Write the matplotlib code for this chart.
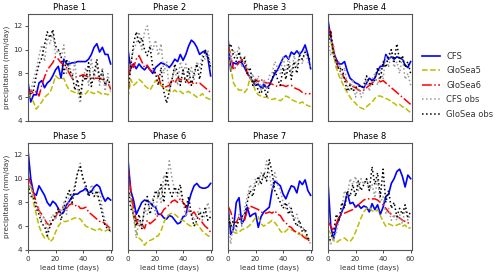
import numpy as np
import matplotlib
matplotlib.use("Agg")
import matplotlib.pyplot as plt

days = list(range(0, 61, 2))
phases = ["Phase 1", "Phase 2", "Phase 3", "Phase 4", "Phase 5", "Phase 6", "Phase 7", "Phase 8"]
series_labels = ["CFS", "GloSea5", "GloSea6", "CFS obs", "GloSea obs"]

cfs = [
    [7.3, 5.6, 6.2, 6.2, 7.2, 7.4, 6.8, 7.2, 7.4, 7.8, 8.3, 8.6, 7.6, 9.2, 8.8, 8.8, 8.9, 8.9, 9.0, 9.0, 9.0, 9.0, 9.2, 9.6, 10.2, 10.5, 9.8, 10.2, 9.6, 9.6, 8.8],
    [10.0, 8.4, 8.8, 8.4, 8.8, 8.5, 8.3, 8.6, 8.3, 8.0, 8.5, 8.7, 8.9, 8.8, 8.7, 8.5, 8.8, 9.2, 9.0, 9.6, 9.1, 9.6, 10.3, 10.8, 10.6, 10.2, 9.6, 9.8, 9.9, 9.3, 7.8],
    [11.0, 8.2, 8.9, 8.8, 9.0, 8.9, 8.5, 8.0, 7.7, 7.3, 7.0, 7.1, 6.8, 7.1, 6.8, 7.0, 7.5, 8.0, 8.3, 8.8, 9.3, 9.5, 9.2, 9.8, 9.6, 9.9, 9.6, 9.9, 10.4, 9.6, 8.4],
    [12.5, 11.0, 9.8, 9.2, 8.8, 8.8, 9.0, 8.2, 7.6, 7.4, 7.2, 7.1, 6.9, 6.8, 7.2, 7.6, 7.4, 7.6, 8.2, 8.6, 8.6, 9.6, 9.2, 9.4, 9.2, 9.4, 9.3, 9.2, 8.7, 8.5, 9.0],
    [12.4, 10.0, 8.8, 8.6, 9.4, 9.0, 8.6, 8.0, 7.7, 8.1, 7.9, 7.5, 7.0, 7.2, 7.8, 8.1, 8.5, 8.7, 8.7, 8.9, 9.0, 9.2, 8.8, 8.9, 9.3, 9.5, 9.3, 8.6, 8.1, 8.4, 8.2],
    [11.6, 9.0, 8.2, 7.0, 7.5, 8.0, 8.2, 8.1, 8.0, 7.7, 7.6, 7.0, 7.0, 6.7, 6.6, 6.9, 6.8, 6.5, 6.2, 6.3, 6.8, 6.9, 8.0, 8.8, 9.4, 9.6, 9.3, 9.2, 9.2, 9.3, 9.6],
    [7.7, 5.3, 5.8, 8.0, 8.4, 6.2, 6.6, 7.6, 6.8, 7.0, 7.1, 5.9, 6.8, 7.2, 7.4, 7.6, 9.0, 9.8, 9.6, 9.4, 8.7, 8.3, 8.9, 9.4, 9.3, 8.8, 9.8, 9.5, 9.9, 9.0, 8.6],
    [9.7, 6.0, 4.9, 6.0, 6.6, 7.2, 7.8, 8.8, 7.9, 8.0, 7.6, 7.8, 7.5, 7.7, 7.6, 7.2, 7.9, 7.4, 7.8, 7.0, 7.6, 8.5, 8.7, 9.6, 10.0, 10.6, 10.8, 10.2, 9.3, 10.3, 10.0],
]
glosea5 = [
    [6.3, 6.0, 5.6, 5.0, 5.3, 5.6, 6.0, 6.2, 6.4, 7.0, 7.8, 7.6, 7.5, 7.6, 7.0, 6.6, 6.5, 6.4, 6.5, 6.3, 6.2, 6.3, 6.6, 6.4, 6.3, 6.5, 6.4, 6.2, 6.3, 6.2, 6.5],
    [6.0, 7.5, 7.0, 7.2, 7.5, 7.3, 7.0, 6.8, 6.6, 7.0, 7.4, 7.3, 7.0, 6.8, 6.6, 6.5, 6.4, 6.6, 6.4, 6.5, 6.3, 6.4, 6.5, 6.3, 6.2, 6.0, 6.1, 6.3, 6.0, 5.9, 5.8],
    [9.3, 8.5, 7.2, 6.8, 6.6, 6.6, 6.4, 6.7, 7.6, 7.2, 6.5, 6.2, 6.1, 6.0, 6.0, 5.9, 5.8, 5.9, 5.8, 5.7, 5.9, 6.1, 6.0, 5.8, 5.7, 5.6, 5.5, 5.6, 5.4, 5.3, 5.2],
    [11.3, 10.8, 9.5, 8.5, 7.8, 7.3, 6.8, 6.4, 6.0, 5.7, 5.5, 5.2, 5.1, 5.0, 5.2, 5.4, 5.6, 5.9, 6.1, 6.1, 6.0, 5.9, 5.8, 5.6, 5.5, 5.3, 5.4, 5.2, 5.1, 4.9, 4.7],
    [9.0, 9.5, 8.0, 7.0, 6.0, 5.4, 5.0, 5.2, 4.7, 4.9, 5.5, 6.0, 6.3, 6.4, 6.4, 6.5, 6.6, 6.7, 6.7, 6.6, 6.3, 6.0, 5.9, 5.8, 5.7, 5.6, 5.8, 5.6, 5.6, 5.7, 5.6],
    [9.0, 8.5, 6.8, 5.5, 5.0, 4.8, 4.4, 4.7, 4.8, 4.9, 5.1, 5.2, 5.6, 6.3, 6.8, 7.0, 7.1, 7.0, 6.8, 6.5, 6.5, 6.3, 6.1, 6.0, 6.1, 6.2, 5.9, 5.6, 5.4, 5.2, 5.1],
    [6.9, 6.2, 5.5, 5.4, 5.5, 5.7, 5.8, 5.9, 6.1, 6.4, 6.7, 6.8, 6.2, 6.0, 6.2, 6.3, 6.5, 6.3, 6.0, 5.6, 5.4, 5.6, 5.8, 5.7, 5.6, 5.4, 5.3, 5.3, 5.2, 5.0, 4.8],
    [5.7, 5.4, 4.8, 4.6, 4.8, 4.9, 5.0, 4.8, 4.7, 5.0, 5.5, 6.1, 6.7, 7.2, 7.5, 7.6, 7.3, 7.2, 7.4, 6.9, 6.4, 6.0, 6.2, 6.1, 6.0, 6.1, 6.2, 6.0, 6.1, 5.8, 5.9],
]
glosea6 = [
    [6.2, 6.6, 6.3, 6.5, 6.1, 7.0, 7.7, 8.3, 8.6, 8.9, 9.4, 9.2, 8.9, 8.7, 8.5, 8.0, 7.6, 7.7, 7.7, 7.8, 7.9, 7.8, 7.7, 7.6, 7.6, 7.6, 7.6, 7.5, 7.4, 7.2, 6.7],
    [6.5, 9.0, 8.5, 9.2, 9.5, 9.0, 8.5, 8.7, 8.3, 8.2, 8.0, 7.8, 7.0, 6.8, 6.9, 7.0, 7.5, 7.2, 7.6, 7.5, 7.4, 7.6, 7.2, 7.3, 7.1, 7.2, 7.2, 7.0, 6.8, 6.6, 6.4],
    [10.5, 9.5, 8.3, 8.6, 8.9, 9.2, 8.9, 8.0, 7.6, 7.3, 7.5, 7.3, 7.5, 7.3, 7.2, 7.2, 7.1, 7.0, 6.9, 7.0, 7.0, 6.9, 7.0, 7.0, 6.8, 6.7, 6.6, 6.4, 6.3, 6.3, 6.3],
    [11.8, 11.5, 10.0, 9.0, 8.3, 8.0, 7.6, 7.3, 7.1, 6.9, 6.8, 6.6, 6.5, 6.6, 6.8, 7.0, 7.2, 7.4, 7.5, 7.3, 7.4, 7.2, 7.0, 6.8, 6.6, 6.4, 6.2, 6.0, 5.8, 5.6, 5.4],
    [10.3, 9.5, 8.8, 8.0, 7.3, 7.0, 6.6, 6.2, 6.1, 6.5, 6.8, 7.2, 7.5, 7.6, 7.5, 7.8, 7.9, 7.7, 7.8, 7.5, 7.5, 7.6, 7.2, 7.0, 6.8, 6.6, 6.4, 6.4, 6.2, 6.0, 5.8],
    [11.0, 9.0, 7.5, 6.5, 6.0, 6.2, 5.8, 6.5, 6.2, 6.4, 6.6, 7.0, 7.0, 7.4, 7.6, 7.8, 8.1, 8.2, 8.0, 8.3, 8.0, 7.7, 7.3, 7.0, 7.2, 6.8, 6.6, 6.3, 6.0, 5.8, 5.5],
    [7.7, 7.2, 6.4, 6.3, 6.8, 6.7, 6.5, 7.3, 7.7, 7.6, 7.5, 7.4, 7.2, 7.1, 7.1, 7.2, 7.1, 7.3, 7.0, 6.9, 6.5, 6.3, 6.0, 5.9, 5.6, 5.5, 5.4, 5.2, 5.0, 4.9, 4.6],
    [6.4, 6.0, 5.6, 6.2, 6.8, 7.0, 7.1, 7.2, 7.3, 7.4, 7.6, 7.8, 8.0, 8.2, 8.3, 8.3, 8.3, 8.3, 8.2, 8.0, 7.8, 7.5, 7.2, 7.0, 6.8, 6.8, 6.7, 6.5, 6.4, 6.3, 6.1],
]
cfs_obs = [
    [6.3, 6.5, 7.5, 8.3, 9.5, 10.4, 9.0, 11.0, 10.5, 11.4, 9.6, 10.0, 9.3, 10.4, 8.0, 9.0, 7.5, 9.0, 6.5, 5.5, 7.5, 8.5, 7.0, 9.3, 7.5, 8.8, 7.0, 8.5, 6.5, 8.0, 6.5],
    [8.0, 9.0, 10.0, 10.5, 11.5, 10.0, 11.5, 12.0, 10.5, 10.0, 10.8, 9.5, 10.5, 8.0, 9.0, 6.5, 7.5, 8.5, 7.0, 9.0, 8.0, 8.8, 7.5, 8.5, 7.5, 9.0, 8.5, 9.5, 9.2, 10.0, 8.5],
    [10.5, 9.0, 10.0, 9.5, 10.3, 8.5, 9.5, 8.5, 7.5, 8.0, 7.0, 7.8, 6.5, 7.5, 6.8, 7.8, 8.0, 9.0, 8.5, 8.0, 9.5, 8.0, 9.5, 8.0, 9.5, 8.5, 9.8, 8.8, 10.0, 9.0, 8.5],
    [11.0, 9.5, 10.5, 8.5, 9.0, 7.5, 8.5, 7.0, 6.5, 7.5, 6.0, 7.0, 6.0, 6.5, 7.7, 6.5, 7.5, 8.0, 7.0, 8.5, 7.5, 9.5, 8.5, 10.0, 8.5, 9.0, 8.0, 9.5, 7.5, 8.0, 7.0],
    [9.0, 9.5, 8.5, 7.5, 7.5, 6.5, 6.8, 5.5, 6.5, 7.0, 6.5, 7.5, 7.0, 8.0, 7.0, 9.0, 8.5, 9.5, 10.5, 11.3, 10.0, 9.0, 8.5, 9.5, 9.0, 8.5, 9.0, 7.5, 6.5, 6.0, 5.5],
    [9.0, 8.5, 7.0, 5.0, 6.5, 6.0, 7.5, 7.0, 8.0, 8.3, 7.0, 9.0, 8.0, 10.3, 9.5, 11.5, 10.0, 9.0, 8.5, 9.0, 8.0, 6.8, 7.5, 7.0, 6.5, 7.0, 7.5, 6.5, 7.0, 8.0, 7.0],
    [6.5, 4.5, 6.5, 5.5, 7.0, 6.0, 7.5, 8.5, 9.5, 9.0, 10.0, 9.5, 10.5, 10.0, 11.5, 10.5, 9.0, 10.5, 9.5, 9.0, 8.0, 7.5, 8.0, 7.0, 6.5, 7.0, 5.8, 6.0, 5.5, 5.0, 4.5],
    [5.5, 4.5, 5.0, 5.5, 6.5, 7.5, 9.0, 8.5, 10.0, 9.5, 10.2, 9.0, 10.0, 9.5, 10.0, 9.0, 9.5, 8.5, 10.0, 8.0, 8.5, 7.0, 7.5, 6.5, 7.0, 6.5, 7.0, 6.2, 7.5, 6.5, 7.0],
]
glosea_obs = [
    [6.0, 6.3, 6.6, 7.8, 8.8, 9.3, 10.4, 11.5, 11.0, 11.7, 10.3, 10.0, 9.5, 8.0, 9.2, 8.2, 8.0, 6.6, 7.5, 6.0, 7.8, 7.4, 8.9, 6.9, 8.0, 9.2, 7.5, 8.2, 7.0, 7.5, 7.0],
    [6.5, 8.5, 10.5, 11.5, 10.5, 11.0, 10.0, 9.5, 10.3, 8.5, 8.0, 7.0, 8.5, 6.5, 5.5, 6.5, 7.5, 8.8, 8.0, 7.0, 8.3, 7.2, 8.4, 7.0, 8.0, 8.8, 7.5, 9.0, 10.0, 9.5, 8.5],
    [10.0, 10.5, 9.5, 9.0, 9.8, 9.0, 9.3, 8.0, 8.5, 7.0, 7.5, 6.5, 6.3, 7.0, 6.0, 7.0, 7.5, 8.3, 7.5, 7.0, 8.5, 7.5, 8.8, 7.5, 9.0, 8.0, 9.5, 9.2, 9.8, 9.5, 9.0],
    [10.5, 11.5, 9.5, 9.0, 8.3, 8.5, 7.5, 6.5, 7.0, 6.5, 6.8, 7.0, 6.8, 7.0, 7.8, 7.2, 7.0, 7.5, 8.5, 7.5, 9.0, 8.5, 9.5, 10.0, 9.0, 10.5, 9.0, 9.5, 8.5, 9.0, 8.0],
    [9.5, 8.5, 8.5, 7.5, 7.0, 6.2, 6.0, 5.2, 6.0, 6.5, 7.0, 7.5, 6.5, 7.5, 8.5, 9.0, 8.0, 9.2, 10.5, 11.0, 10.0, 9.5, 8.5, 9.0, 8.5, 9.0, 8.0, 7.0, 6.0, 5.8, 5.6],
    [9.5, 7.5, 7.0, 6.0, 7.0, 5.8, 7.5, 8.5, 7.0, 8.0, 9.0, 8.5, 9.5, 8.0, 10.5, 9.0, 8.5, 9.3, 8.8, 9.5, 8.0, 7.5, 8.5, 7.0, 6.0, 6.5, 7.2, 6.8, 7.5, 6.5, 6.8],
    [7.0, 6.0, 6.5, 6.0, 6.5, 6.8, 7.0, 8.0, 9.0, 8.5, 9.5, 10.2, 9.5, 10.5, 9.8, 11.6, 10.5, 9.0, 8.5, 8.0, 7.5, 8.0, 7.0, 7.5, 6.5, 6.0, 6.5, 5.5, 5.8, 5.0, 4.8],
    [4.5, 5.0, 5.5, 7.0, 6.5, 8.0, 7.5, 9.0, 8.5, 9.5, 8.5, 9.8, 9.0, 9.5, 10.0, 9.0, 11.0, 9.5, 10.5, 8.5, 10.8, 8.0, 9.0, 7.5, 8.0, 6.8, 7.5, 7.0, 7.8, 6.8, 7.2],
]

styles = [
    dict(color="#0000ff", ls="-", lw=1.2),
    dict(color="#bcbc00", ls="--", lw=1.1),
    dict(color="#ff0000", ls="-.", lw=1.1),
    dict(color="#999999", ls=":", lw=1.1),
    dict(color="#000000", ls=":", lw=1.1),
]

fig = plt.figure(figsize=(5.0, 2.75), dpi=100)
lefts = [0.056, 0.256, 0.456, 0.656]
bottoms = [0.560, 0.091]
w, h = 0.168, 0.389
handles = []
for i, ph in enumerate(phases):
    r, c = divmod(i, 4)
    ax = fig.add_axes([lefts[c], bottoms[r], w, h])
    for data, st in zip([cfs, glosea5, glosea6, cfs_obs, glosea_obs], styles):
        ln, = ax.plot(days, data[i], **st)
        if i == 0:
            handles.append(ln)
    ax.set_xlim(0, 61)
    ax.set_ylim(4, 13)
    ax.set_title(ph, fontsize=6, pad=3)
    ax.tick_params(labelsize=5.2, length=2.5, width=0.6, pad=1.5, colors="#333333")
    ax.set_xticks([0, 20, 40, 60])
    ax.set_yticks([4, 6, 8, 10, 12])
    for s in ax.spines.values():
        s.set_color("#555555")
        s.set_linewidth(0.8)
    if r == 0:
        ax.tick_params(axis="x", bottom=False, labelbottom=False)
    else:
        ax.set_xlabel("lead time (days)", fontsize=5.2, labelpad=2, color="#333333")
    if c == 0:
        ax.set_ylabel("precipitation (mm/day)", fontsize=5.2, labelpad=2, color="#333333")
    else:
        ax.tick_params(axis="y", left=False, labelleft=False)

fig.legend(handles, series_labels, loc="center left", bbox_to_anchor=(0.828, 0.69),
           frameon=False, fontsize=6, handlelength=2.2, labelspacing=0.65, handletextpad=0.8,
           labelcolor="#333333")
fig.savefig("out.png", dpi=100)
